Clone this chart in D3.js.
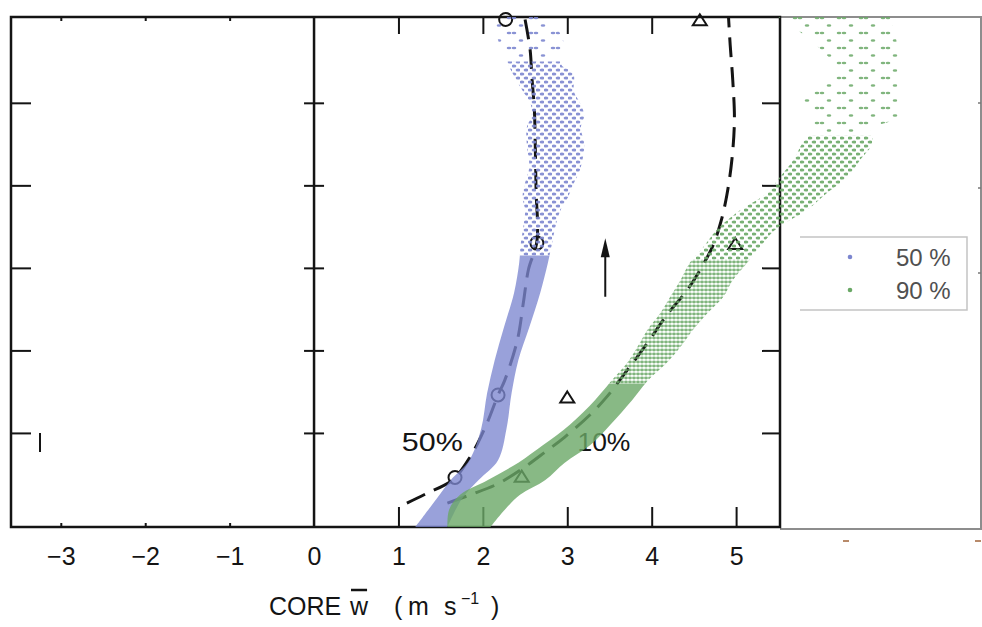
<!DOCTYPE html>
<html>
<head>
<meta charset="utf-8">
<script src="https://cdn.jsdelivr.net/npm/d3@7"></script>
<style>
  html, body { margin: 0; padding: 0; background: #fff; }
  svg { display: block; }
</style>
</head>
<body>
<svg id="chart" width="982" height="627"></svg>
<script>
// ---- axis ticks ---------------------------------------------------------
const xTicks = [-3, -2, -1, 0, 1, 2, 3, 4, 5];
const yTicks = [1, 2, 3, 4, 5];

// ---- scatter envelope, 50 % series (height, left / right edge of core w) --
const blueHeight = [6.04, 5.76, 5.46, 5.36, 5.13, 5.00, 4.85, 4.70, 4.50, 4.22, 4.03, 3.86, 3.70, 3.50, 3.30, 3.06, 2.70, 2.28, 1.88, 1.48, 1.05, 0.67, 0.43, 0.20, -0.14];
const blueLeft   = [2.14, 2.18, 2.30, 2.35, 2.48, 2.56, 2.58, 2.52, 2.52, 2.55, 2.50, 2.47, 2.50, 2.48, 2.45, 2.43, 2.37, 2.25, 2.14, 2.05, 1.98, 1.84, 1.62, 1.45, 1.20];
const blueRight  = [2.78, 2.95, 2.93, 3.07, 3.08, 3.15, 3.20, 3.16, 3.20, 3.16, 3.08, 3.01, 2.92, 2.86, 2.82, 2.77, 2.68, 2.55, 2.42, 2.34, 2.28, 2.18, 1.95, 1.75, 1.58];

// ---- scatter envelope, 90 % series ---------------------------------------
const greenHeight = [6.04, 5.70, 5.36, 5.04, 4.83, 4.67, 4.52, 4.31, 4.10, 3.91, 3.70, 3.46, 3.25, 3.06, 2.85, 2.65, 2.45, 2.25, 2.04, 1.85, 1.64, 1.40, 1.10, 0.85, 0.64, 0.43, 0.25, 0.07, -0.14];
const greenLeft   = [5.50, 5.95, 6.20, 5.80, 5.91, 5.91, 5.79, 5.68, 5.52, 5.37, 5.05, 4.77, 4.61, 4.45, 4.34, 4.22, 4.10, 3.95, 3.83, 3.71, 3.53, 3.33, 3.03, 2.71, 2.42, 2.06, 1.73, 1.60, 1.58];
const greenRight  = [6.82, 6.91, 6.91, 6.91, 6.91, 6.59, 6.62, 6.47, 6.32, 6.08, 5.84, 5.46, 5.28, 5.13, 4.96, 4.85, 4.66, 4.49, 4.34, 4.18, 3.96, 3.77, 3.51, 3.27, 2.97, 2.74, 2.44, 2.26, 2.09];

// ---- dashed profiles ----------------------------------------------------
const prof50W = [1.10, 1.34, 1.64, 1.85, 2.05, 2.18, 2.26, 2.41, 2.48, 2.54, 2.64, 2.63, 2.62, 2.61, 2.58, 2.56, 2.50];
const prof50H = [0.15, 0.27, 0.43, 0.71, 1.12, 1.46, 1.64, 2.13, 2.58, 2.98, 3.32, 3.95, 4.52, 4.92, 5.32, 5.64, 6.01];
const prof10W = [1.58, 1.85, 2.17, 2.46, 2.74, 2.97, 3.27, 3.47, 3.71, 3.95, 4.18, 4.42, 4.61, 4.73, 4.82, 4.89, 4.95, 4.98, 4.96, 4.93, 4.91];
const prof10H = [0.15, 0.25, 0.38, 0.56, 0.77, 0.95, 1.22, 1.44, 1.76, 2.09, 2.43, 2.73, 3.04, 3.28, 3.56, 3.88, 4.31, 4.79, 5.28, 5.70, 6.04];

// ---- observed points ----------------------------------------------------
const circW = [2.27, 2.64, 2.18, 1.67];
const circH = [6.01, 3.30, 1.46, 0.46];
const triW  = [4.57, 4.99, 3.00, 2.46];
const triH  = [6.00, 3.29, 1.43, 0.47];

const legendLabels = ["50 %", "90 %"];

// ---- layout -------------------------------------------------------------
const X0 = 11, X1 = 780, Y0 = 17, Y1 = 527;
const ink = "#141414";
const font = "'Liberation Sans', Arial, sans-serif";
const blueCol = "#7c86cf", greenCol = "#6aa866";

const x = d3.scaleLinear().domain([-3.59, 5.52]).range([X0, X1]);
const y = d3.scaleLinear().domain([-0.14, 6.04]).range([Y1, Y0]);

const svg = d3.select("#chart");
const defs = svg.append("defs");

// dot textures used for the scatter clouds
function makePatterns(id, col) {
  const fine = defs.append("pattern").attr("id", id + "-fine")
    .attr("patternUnits", "userSpaceOnUse").attr("width", 4).attr("height", 4);
  fine.append("ellipse").attr("cx", 2).attr("cy", 2).attr("rx", 1.9).attr("ry", 1.4).attr("fill", col);
  const dot = defs.append("pattern").attr("id", id + "-dot")
    .attr("patternUnits", "userSpaceOnUse").attr("width", 8).attr("height", 8);
  dot.append("ellipse").attr("cx", 2).attr("cy", 2).attr("rx", 2.4).attr("ry", 1.5).attr("fill", col);
  dot.append("ellipse").attr("cx", 6).attr("cy", 6).attr("rx", 2.4).attr("ry", 1.5).attr("fill", col);
  const sparse = defs.append("pattern").attr("id", id + "-sparse")
    .attr("patternUnits", "userSpaceOnUse").attr("width", 22).attr("height", 15);
  sparse.append("ellipse").attr("cx", 3).attr("cy", 3).attr("rx", 2.3).attr("ry", 1.3).attr("fill", col);
  sparse.append("ellipse").attr("cx", 8).attr("cy", 3).attr("rx", 2.3).attr("ry", 1.3).attr("fill", col);
  sparse.append("ellipse").attr("cx", 15).attr("cy", 10.5).attr("rx", 2.3).attr("ry", 1.3).attr("fill", col);
}
makePatterns("blue", blueCol);
makePatterns("green", greenCol);

// ---- gray outer frame --------------------------------------------------
svg.append("path")
  .attr("d", `M${X1},${Y0} H981 V529 H${X1}`)
  .attr("fill", "none").attr("stroke", "#8d8d8d").attr("stroke-width", 2);
svg.append("g").selectAll("line").data([103, 188, 273]).join("line")
  .attr("x1", 978).attr("x2", 981).attr("y1", d => d).attr("y2", d => d)
  .attr("stroke", "#777").attr("stroke-width", 1.5);
svg.append("g").selectAll("line").data([846, 978]).join("line")
  .attr("x1", d => d - 3).attr("x2", d => d + 3).attr("y1", 541).attr("y2", 541)
  .attr("stroke", "#b88a6a").attr("stroke-width", 2);

// ---- panel frame and ticks ---------------------------------------------
svg.append("rect").attr("x", X0).attr("y", Y0).attr("width", X1 - X0).attr("height", Y1 - Y0)
  .attr("fill", "none").attr("stroke", ink).attr("stroke-width", 2.5);
svg.append("line").attr("x1", x(0)).attr("x2", x(0)).attr("y1", Y0).attr("y2", Y1)
  .attr("stroke", ink).attr("stroke-width", 2.5);

function tickStyle(g) {
  g.select(".domain").remove();
  g.selectAll("text").remove();
  g.selectAll(".tick line").attr("stroke", ink).attr("stroke-width", 2);
}
svg.append("g").attr("transform", `translate(0,${Y1})`)
  .call(d3.axisBottom(x).tickValues([1, 2, 3, 4, 5]).tickSizeInner(-20).tickSizeOuter(0)).call(tickStyle);
svg.append("g").attr("transform", `translate(0,${Y1})`)
  .call(d3.axisBottom(x).tickValues([-3, -2, -1]).tickSizeInner(-4).tickSizeOuter(0)).call(tickStyle);
svg.append("g").attr("transform", `translate(0,${Y0})`)
  .call(d3.axisTop(x).tickValues([1, 2, 3, 4]).tickSizeInner(-17).tickSizeOuter(0)).call(tickStyle);
svg.append("g").attr("transform", `translate(0,${Y0})`)
  .call(d3.axisTop(x).tickValues([-3, -2, -1]).tickSizeInner(-4).tickSizeOuter(0)).call(tickStyle);
svg.append("g").attr("transform", `translate(${X0},0)`)
  .call(d3.axisLeft(y).tickValues(yTicks).tickSizeInner(-20).tickSizeOuter(0)).call(tickStyle);
svg.append("g").attr("transform", `translate(${x(0)},0)`)
  .call(d3.axisLeft(y).tickValues(yTicks).tickSizeInner(10).tickSizeOuter(0)).call(tickStyle);
svg.append("g").attr("transform", `translate(${x(0)},0)`)
  .call(d3.axisRight(y).tickValues(yTicks).tickSizeInner(10).tickSizeOuter(0)).call(tickStyle);
svg.append("g").attr("transform", `translate(${X1},0)`)
  .call(d3.axisRight(y).tickValues(yTicks).tickSizeInner(-18).tickSizeOuter(0)).call(tickStyle);
// stray stroke beside the lowest left tick
svg.append("line").attr("x1", 40).attr("x2", 40).attr("y1", 433).attr("y2", 452)
  .attr("stroke", ink).attr("stroke-width", 2);

// tick labels
svg.append("g").attr("transform", `translate(0,${Y1})`)
  .call(d3.axisBottom(x).tickValues(xTicks).tickSize(0).tickPadding(20)
    .tickFormat(d => d < 0 ? "\u2212" + (-d) : String(d)))
  .call(g => {
    g.select(".domain").remove();
    g.attr("font-family", font).attr("font-size", 25);
    g.selectAll("text").attr("fill", ink);
  });

// axis title: CORE w-bar (m s^-1)
const title = svg.append("text").attr("y", 615)
  .attr("font-family", font).attr("font-size", 25).attr("fill", ink);
title.append("tspan").attr("x", 269).text("CORE");
title.append("tspan").attr("x", 350).text("w");
title.append("tspan").attr("x", 394).text("(");
title.append("tspan").attr("x", 408).text("m");
title.append("tspan").attr("x", 444).text("s");
title.append("tspan").attr("x", 461).attr("font-size", 16).attr("dy", -11).text("\u22121");
title.append("tspan").attr("x", 491).attr("dy", 11).text(")");
{
  const node = title.node();
  const a = node.getStartPositionOfChar(4).x, b = node.getEndPositionOfChar(4).x;
  svg.append("line").attr("x1", a + 1).attr("x2", b - 1).attr("y1", 590).attr("y2", 590)
    .attr("stroke", ink).attr("stroke-width", 2.5);
}

// ---- dashed profiles and observed points -------------------------------
const line = d3.line().x(d => x(d[0])).y(d => y(d[1])).curve(d3.curveCatmullRom);
[[prof50W, prof50H], [prof10W, prof10H]].forEach(([w, h]) => {
  svg.append("path").attr("d", line(d3.zip(w, h)))
    .attr("fill", "none").attr("stroke", ink).attr("stroke-width", 3)
    .attr("stroke-dasharray", "20,10");
});
svg.append("g").selectAll("circle").data(d3.zip(circW, circH)).join("circle")
  .attr("cx", d => x(d[0])).attr("cy", d => y(d[1])).attr("r", 6.5)
  .attr("fill", "none").attr("stroke", ink).attr("stroke-width", 2);
svg.append("g").selectAll("path").data(d3.zip(triW, triH)).join("path")
  .attr("transform", d => `translate(${x(d[0])},${y(d[1])})`)
  .attr("d", "M0,-6 L7,5 L-7,5 Z")
  .attr("fill", "none").attr("stroke", ink).attr("stroke-width", 2);

// updraft arrow
{
  const ax = x(3.45), yb = y(2.65), yt = y(3.36);
  svg.append("line").attr("x1", ax).attr("x2", ax).attr("y1", yb).attr("y2", yt + 12)
    .attr("stroke", ink).attr("stroke-width", 2);
  svg.append("path").attr("d", `M${ax},${yt} L${ax + 4.5},${yt + 19} L${ax - 4.5},${yt + 19} Z`).attr("fill", ink);
}

// curve labels
svg.append("text").attr("x", x(1.04)).attr("y", y(0.78)).attr("font-family", font)
  .attr("font-size", 25).attr("fill", ink).attr("textLength", 61).attr("lengthAdjust", "spacingAndGlyphs").text("50%");
svg.append("text").attr("x", x(3.12)).attr("y", y(0.78)).attr("font-family", font)
  .attr("font-size", 25).attr("fill", ink).attr("textLength", 53).attr("lengthAdjust", "spacingAndGlyphs").text("10%");

// ---- scatter clouds ----------------------------------------------------
const band = d3.area().y(d => y(d[0])).x0(d => x(d[1])).x1(d => x(d[2])).curve(d3.curveCatmullRom);
function cloud(id, col, hs, ls, rs, zones) {
  const d = band(d3.zip(hs, ls, rs));
  zones.forEach(([lo, hi, fill, op], i) => {
    const cid = `${id}-clip-${i}`;
    defs.append("clipPath").attr("id", cid).append("rect")
      .attr("x", 0).attr("width", 982).attr("y", y(hi)).attr("height", y(lo) - y(hi));
    svg.append("path").attr("d", d).attr("clip-path", `url(#${cid})`)
      .attr("fill", fill === "solid" ? col : `url(#${id}-${fill})`).attr("opacity", op);
  });
}
cloud("blue", blueCol, blueHeight, blueLeft, blueRight,
  [[-1, 3.15, "solid", 0.78], [3.15, 5.5, "dot", 0.9], [5.5, 7, "sparse", 0.9]]);
cloud("green", greenCol, greenHeight, greenLeft, greenRight,
  [[-1, 1.6, "solid", 0.8], [1.6, 3.1, "fine", 0.85], [3.1, 4.6, "dot", 0.9], [4.6, 7, "sparse", 0.85]]);

// ---- legend ------------------------------------------------------------
const lg = svg.append("g");
lg.append("path").attr("d", "M800,237 H967 V310 H800").attr("fill", "none")
  .attr("stroke", "#c4c4c4").attr("stroke-width", 1.5);
lg.selectAll("circle").data(legendLabels).join("circle")
  .attr("cx", 850).attr("cy", (d, i) => 257 + i * 33).attr("r", 2.3)
  .attr("fill", (d, i) => i ? greenCol : blueCol);
lg.selectAll("text").data(legendLabels).join("text")
  .attr("x", 896).attr("y", (d, i) => 266 + i * 33)
  .attr("font-family", font).attr("font-size", 24).attr("fill", "#505050").text(d => d);
</script>
</body>
</html>
